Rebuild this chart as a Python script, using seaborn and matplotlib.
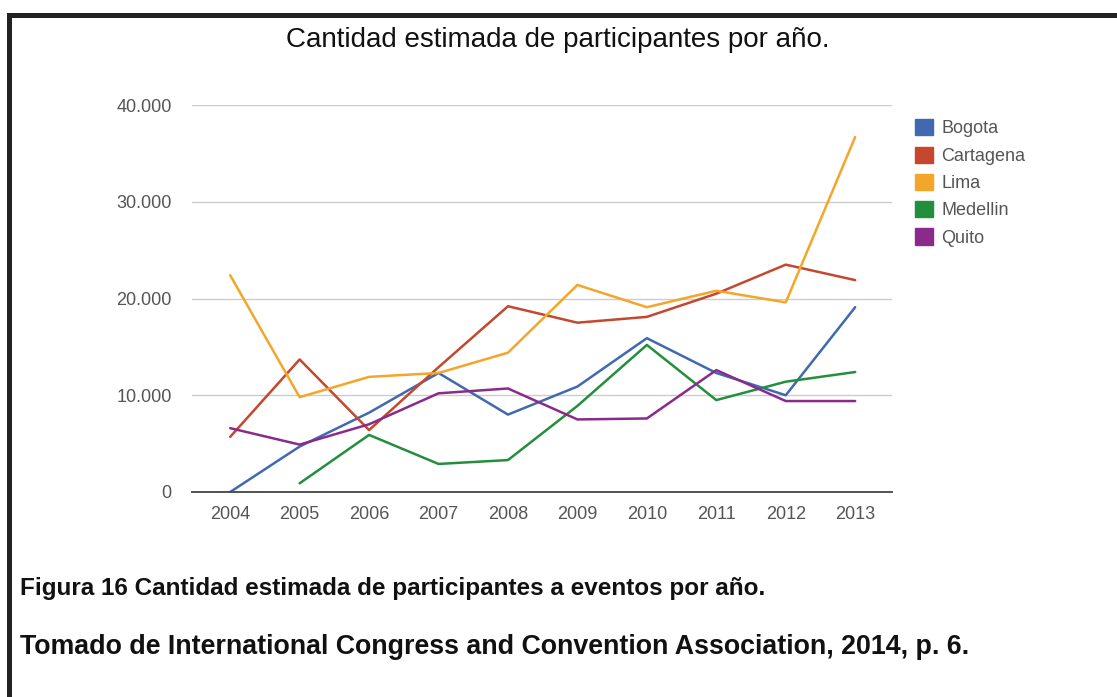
import matplotlib
matplotlib.use("Agg")
import matplotlib.pyplot as plt
import seaborn as sns
import pandas as pd
import numpy as np
from matplotlib.patches import Rectangle, Patch
from matplotlib.ticker import FuncFormatter

years = [2004, 2005, 2006, 2007, 2008, 2009, 2010, 2011, 2012, 2013]
bogota = [0, 4700, 8200, 12300, 8000, 10900, 15900, 12300, 10000, 19100]
cartagena = [5700, 13700, 6400, 12900, 19200, 17500, 18100, 20500, 23500, 21900]
lima = [22400, 9800, 11900, 12300, 14400, 21400, 19100, 20800, 19600, 36700]
medellin = [np.nan, 900, 5900, 2900, 3300, 8900, 15200, 9500, 11400, 12400]
quito = [6600, 4900, 7000, 10200, 10700, 7500, 7600, 12600, 9400, 9400]
series_names = ["Bogota", "Cartagena", "Lima", "Medellin", "Quito"]
colors = ["#4069b0", "#c4472e", "#f3a62a", "#238f3d", "#8a2b8c"]
y_ticks = [0, 10000, 20000, 30000, 40000]

title = "Cantidad estimada de participantes por año."
caption1 = "Figura 16 Cantidad estimada de participantes a eventos por año."
caption2 = "Tomado de International Congress and Convention Association, 2014, p. 6."

sns.set_style("white")
plt.rcParams['font.family'] = ['Liberation Sans', 'DejaVu Sans']

rows = []
for name, vals in zip(series_names, [bogota, cartagena, lima, medellin, quito]):
    for y, v in zip(years, vals):
        rows.append({"year": y, "value": v, "city": name})
df = pd.DataFrame(rows)

fig = plt.figure(figsize=(11.17, 6.97), dpi=100)
W, H = 1117, 697
ax = fig.add_axes([192 / W, 1 - 492 / H, (892 - 192) / W, (492 - 105) / H])

sns.lineplot(data=df, x="year", y="value", hue="city", palette=colors,
             hue_order=series_names, linewidth=1.8, ax=ax, legend=False,
             estimator=None)

ax.set_xlim(2003.45, 2013.53)
ax.set_ylim(0, 40000)
ax.set_yticks(y_ticks)
ax.yaxis.set_major_formatter(FuncFormatter(lambda v, p: "0" if v == 0 else f"{int(v):,}".replace(",", ".")))
ax.set_xticks(years)
ax.set_xticklabels([str(y) for y in years])
ax.set_xlabel("")
ax.set_ylabel("")
for s in ["top", "right", "left"]:
    ax.spines[s].set_visible(False)
ax.spines["bottom"].set_color("#444444")
ax.spines["bottom"].set_linewidth(1.3)
ax.grid(axis="y", color="#cccccc", linewidth=1)
ax.tick_params(axis="both", length=0, labelsize=13, colors="#555555")
ax.tick_params(axis="y", pad=14.5)
ax.tick_params(axis="x", pad=10)

handles = [Patch(facecolor=c, edgecolor=c, label=n) for c, n in zip(colors, series_names)]
leg = fig.legend(handles=handles, loc="upper left", bbox_to_anchor=(908 / W, 1 - 112 / H),
                 frameon=False, fontsize=13, handlelength=1.0, handleheight=1.0,
                 handletextpad=0.45, labelspacing=0.5, borderaxespad=0)
for t in leg.get_texts():
    t.set_color("#555555")

fig.text(558 / W, 1 - 40 / H, title, ha="center", va="center", fontsize=20, color="#111111")
fig.text(20 / W, 1 - 589 / H, caption1, ha="left", va="center", fontsize=17.5,
         fontweight="bold", color="#111111")
fig.text(20 / W, 1 - 647 / H, caption2, ha="left", va="center", fontsize=19.3,
         fontweight="bold", color="#111111")

top = 1 - 14.5 / H
rect = Rectangle((8.5 / W, -0.2), 1.2, top + 0.2, transform=fig.transFigure,
                 fill=False, edgecolor="#222222", linewidth=3.6, clip_on=False)
fig.patches.append(rect)

fig.savefig("out.png", dpi=100)
